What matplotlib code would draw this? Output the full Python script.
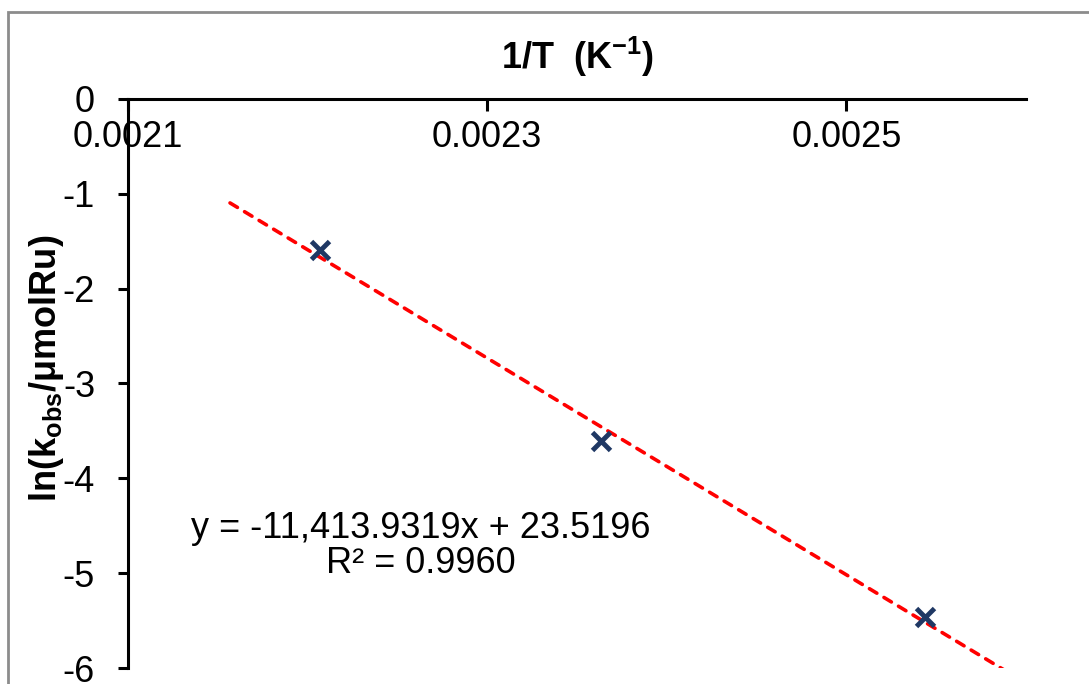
import numpy as np
import matplotlib.pyplot as plt
from matplotlib.patches import Rectangle

plt.rcParams['font.family'] = ['Liberation Sans', 'DejaVu Sans']
plt.rcParams['mathtext.fontset'] = 'custom'
plt.rcParams['mathtext.rm'] = 'Liberation Sans'
plt.rcParams['mathtext.bf'] = 'Liberation Sans:bold'

# 1/T (K^-1) and ln(kobs/umolRu)
inv_T = [0.0022068, 0.0023632, 0.0025436]
ln_k = [-1.594, -3.610, -5.455]
# Excel linear trendline as printed on the chart
slope, intercept = -11413.9319, 23.5196
r2 = 0.9960
extend = 0.00005  # forecast forward/backward

xticks = [0.0021, 0.0023, 0.0025]
yticks = [0, -1, -2, -3, -4, -5, -6]

fig = plt.figure(figsize=(10.89, 6.84), dpi=100)
ax = fig.add_axes([128/1089, 1-668.3/684, 898/1089, 569.6/684])

xs = np.array([min(inv_T)-extend, max(inv_T)+extend])
ax.plot(xs, slope*xs+intercept, color='#FF0000', lw=2.6, ls=(0, (2.4, 2.3)),
        dash_capstyle='round', zorder=2)
ax.plot(inv_T, ln_k, 'x', color='#1F3864', ms=13, mew=3.5, zorder=3)

ax.set_xlim(0.0021, 0.0026)
ax.set_ylim(-6, 0)
ax.spines['right'].set_visible(False)
ax.spines['top'].set_visible(False)
ax.spines['bottom'].set_position(('data', 0))
for s in ('left', 'bottom'):
    ax.spines[s].set_linewidth(2.2)
ax.set_xticks(xticks)
ax.set_xticklabels(['%.4f' % v for v in xticks])
ax.set_yticks(yticks)
ax.set_yticklabels([str(v) for v in yticks])
ax.tick_params(axis='x', direction='out', length=8.5, width=2.2, pad=6.5, labelsize=26)
ax.tick_params(axis='y', direction='out', length=7.2, width=2.2, pad=16.5, labelsize=26)

ax.text(0.5, 1+(98.7-57)/569.6, r'1/T  (K$^{\mathbf{-1}}$)', transform=ax.transAxes,
        ha='center', va='center', fontsize=26, fontweight='bold')
fig.text(47/1089, 1-368/684, r'$\mathbf{ln(k_{obs}/μmolRu)}$', rotation=90,
         ha='center', va='center', fontsize=26)

ax.text(0.3263, 0.2147, 'y = {:,.4f}x + {:.4f}\nR² = {:.4f}'.format(slope, intercept, r2),
        transform=ax.transAxes, ha='center', va='center', fontsize=26, linespacing=1.0)

fig.patches.append(Rectangle((8/1089, -0.1), 1.2, 1-12/684+0.1, transform=fig.transFigure,
                             fill=False, ec='#8c8c8c', lw=2))

fig.savefig('out.png', dpi=100)
